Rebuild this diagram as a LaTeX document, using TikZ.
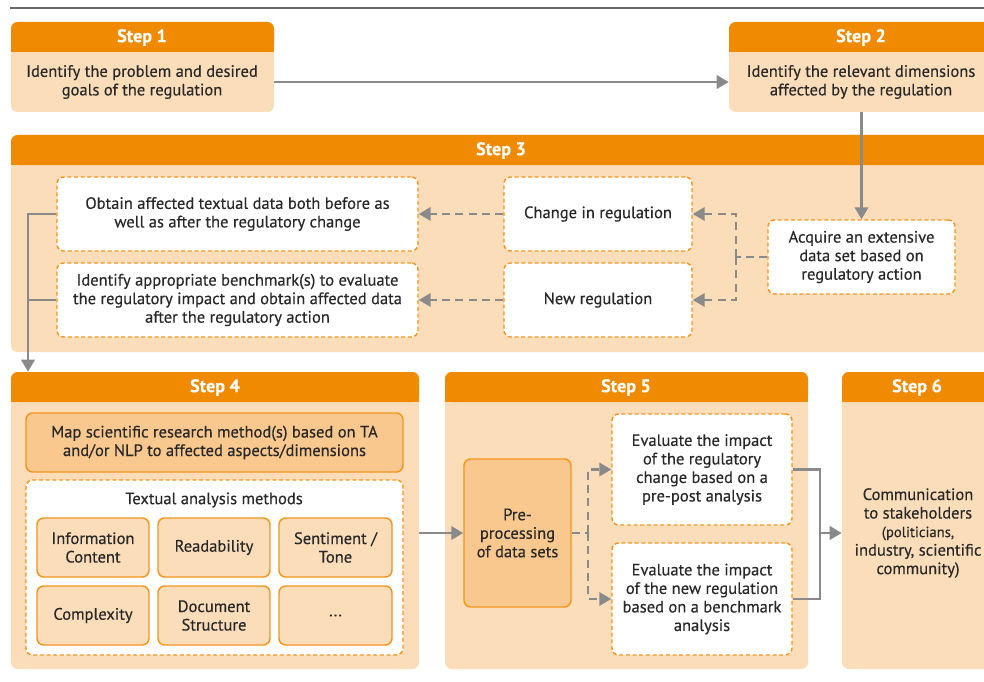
\documentclass[tikz,border=0pt]{standalone}
\usepackage{fontspec}
\setmainfont{PT Sans}[FakeBold=0.35]
\usetikzlibrary{arrows.meta,fit}
\definecolor{hdr}{RGB}{240,138,0}
\definecolor{bodyc}{RGB}{251,221,186}
\definecolor{midc}{RGB}{249,200,142}
\definecolor{lor}{RGB}{244,150,30}
\definecolor{gr}{RGB}{138,138,138}
\definecolor{txt}{RGB}{40,40,40}
\definecolor{rule}{RGB}{105,105,105}
\newcommand\mkstep[7]{%
  \node[stepbody, fit={(#2,#3)(#4,#5)}] (#1) {};
  \fill[hdr] (#2,#3+15) rectangle (#4,#3+30);
  \node[stephdr, fit={(#2,#3)(#4,#3+30)}] (#1h) {};
  \node[steplbl] (#1l) at (#6,#3+15.5) {#7};
}
\newcommand\bx[7]{%
  \node[#1, minimum width={(#5-#3)*0.75pt}, minimum height={(#6-#4)*0.75pt}]
    (#2) at ({(#3+#5)/2},{(#4+#6)/2}) {#7};
}
\begin{document}
\begin{tikzpicture}[x=0.75pt,y=-0.75pt,
  every node/.style={font=\fontsize{12.4}{13.9}\selectfont, text=txt, align=center, inner sep=0pt},
  stepbody/.style={fill=bodyc, rounded corners=5pt},
  stephdr/.style={fill=hdr, rounded corners=5pt},
  steplbl/.style={text=white, font=\fontsize{13.6}{15}\selectfont\bfseries},
  dbox/.style={fill=white, draw=lor, line width=1.1pt, dash pattern=on 3pt off 2pt, rounded corners=5pt},
  sbox/.style={fill=bodyc, draw=lor, line width=1.1pt, rounded corners=5pt},
  mbox/.style={fill=midc, draw=lor, line width=1.1pt, rounded corners=5pt},
  conn/.style={draw=gr, line width=2pt},
  arr/.style={conn, -{Triangle[length=9pt,width=10pt]}},
  dconn/.style={conn, dash pattern=on 6pt off 4pt},
  darr/.style={arr, dash pattern=on 6pt off 4pt}]
\useasboundingbox (0,0) rectangle (984,681);
\clip (0,0) rectangle (984,681);

\draw[rule, line width=2.2pt] (10,8) -- (990,8);

% steps
\mkstep{s1}{11}{22}{274}{112}{142}{Step 1}
\mkstep{s2}{729}{22}{1000}{112}{861}{Step 2}
\mkstep{s3}{11}{135}{1000}{352}{501}{Step 3}
\mkstep{s4}{11}{372}{419}{669}{215}{Step 4}
\mkstep{s5}{445}{372}{808}{669}{626}{Step 5}
\mkstep{s6}{842}{372}{1000}{669}{917}{Step 6}

\node (s1t) at (142,82) {Identify the problem and desired\\goals of the regulation};
\node (s2t) at (861,82) {Identify the relevant dimensions\\affected by the regulation};

% step 3
\bx{dbox}{obt}{57}{177}{418}{251}{Obtain affected textual data both before as\\well as after the regulatory change}
\bx{dbox}{bench}{57}{263}{418}{337}{Identify appropriate benchmark(s) to evaluate\\the regulatory impact and obtain affected data\\after the regulatory action}
\bx{dbox}{chg}{504}{177}{692}{251}{Change in regulation}
\bx{dbox}{new}{504}{263}{692}{337}{New regulation}
\bx{dbox}{acq}{768}{220}{955}{294}{Acquire an extensive\\data set based on\\regulatory action}

% step 4
\bx{mbox}{map}{26}{413}{403}{472}{Map scientific research method(s) based on TA\\and/or NLP to affected aspects/dimensions}
\bx{dbox}{tam}{26}{480}{403}{655}{}
\node (tamt) at (214,500) {Textual analysis methods};
\bx{sbox}{m1}{37}{518}{149}{577}{Information\\Content}
\bx{sbox}{m2}{158}{518}{270}{577}{Readability}
\bx{sbox}{m3}{279}{518}{392}{577}{Sentiment /\\Tone}
\bx{sbox}{m4}{37}{586}{149}{645}{Complexity}
\bx{sbox}{m5}{158}{586}{270}{645}{Document\\Structure}
\bx{sbox}{m6}{279}{586}{392}{645}{...}

% step 5
\bx{mbox}{pre}{464}{459}{571}{607}{Pre-\\processing\\of data sets}
\bx{dbox}{ev1}{612}{414}{792}{525}{Evaluate the impact\\of the regulatory\\change based on a\\pre-post analysis}
\bx{dbox}{ev2}{612}{543}{792}{655}{Evaluate the impact\\of the new regulation\\based on a benchmark\\analysis}

% step 6
\node (s6t) at (918,533) {Communication\\to stakeholders\\\fontsize{11}{14.2}\selectfont (politicians,\\industry, scientific\\community)};

% connectors
\draw[arr] (s1t -| s1.east) -- (s1t -| s2.west);
\draw[arr] (acq.north |- s2.south) -- (acq.north);
\coordinate (j1) at (736,257);
\draw[dconn] (acq.west) -- (j1);
\draw[darr] (j1) |- (chg.east);
\draw[darr] (j1) |- (new.east);
\draw[darr] (chg.west) -- (obt.east);
\draw[darr] (new.west) -- (bench.west -| bench.east);
\coordinate (j2) at (28,214);
\draw[conn] (bench.west) -- (bench.west -| j2);
\draw[arr] (obt.west) -- (j2) -- (j2 |- s4.north);
\draw[arr] (pre.west -| s4.east) -- (pre.west);
\coordinate (j3) at (588,533);
\draw[dconn] (pre.east) -- (j3);
\draw[darr] (j3) |- (ev1.west);
\draw[darr] (j3) |- (ev2.west);
\coordinate (j4) at (820,533);
\draw[conn] (ev1.east) -| (j4);
\draw[conn] (ev2.east) -| (j4);
\draw[arr] (j4) -- (j4 -| s6.west);
\end{tikzpicture}
\end{document}
